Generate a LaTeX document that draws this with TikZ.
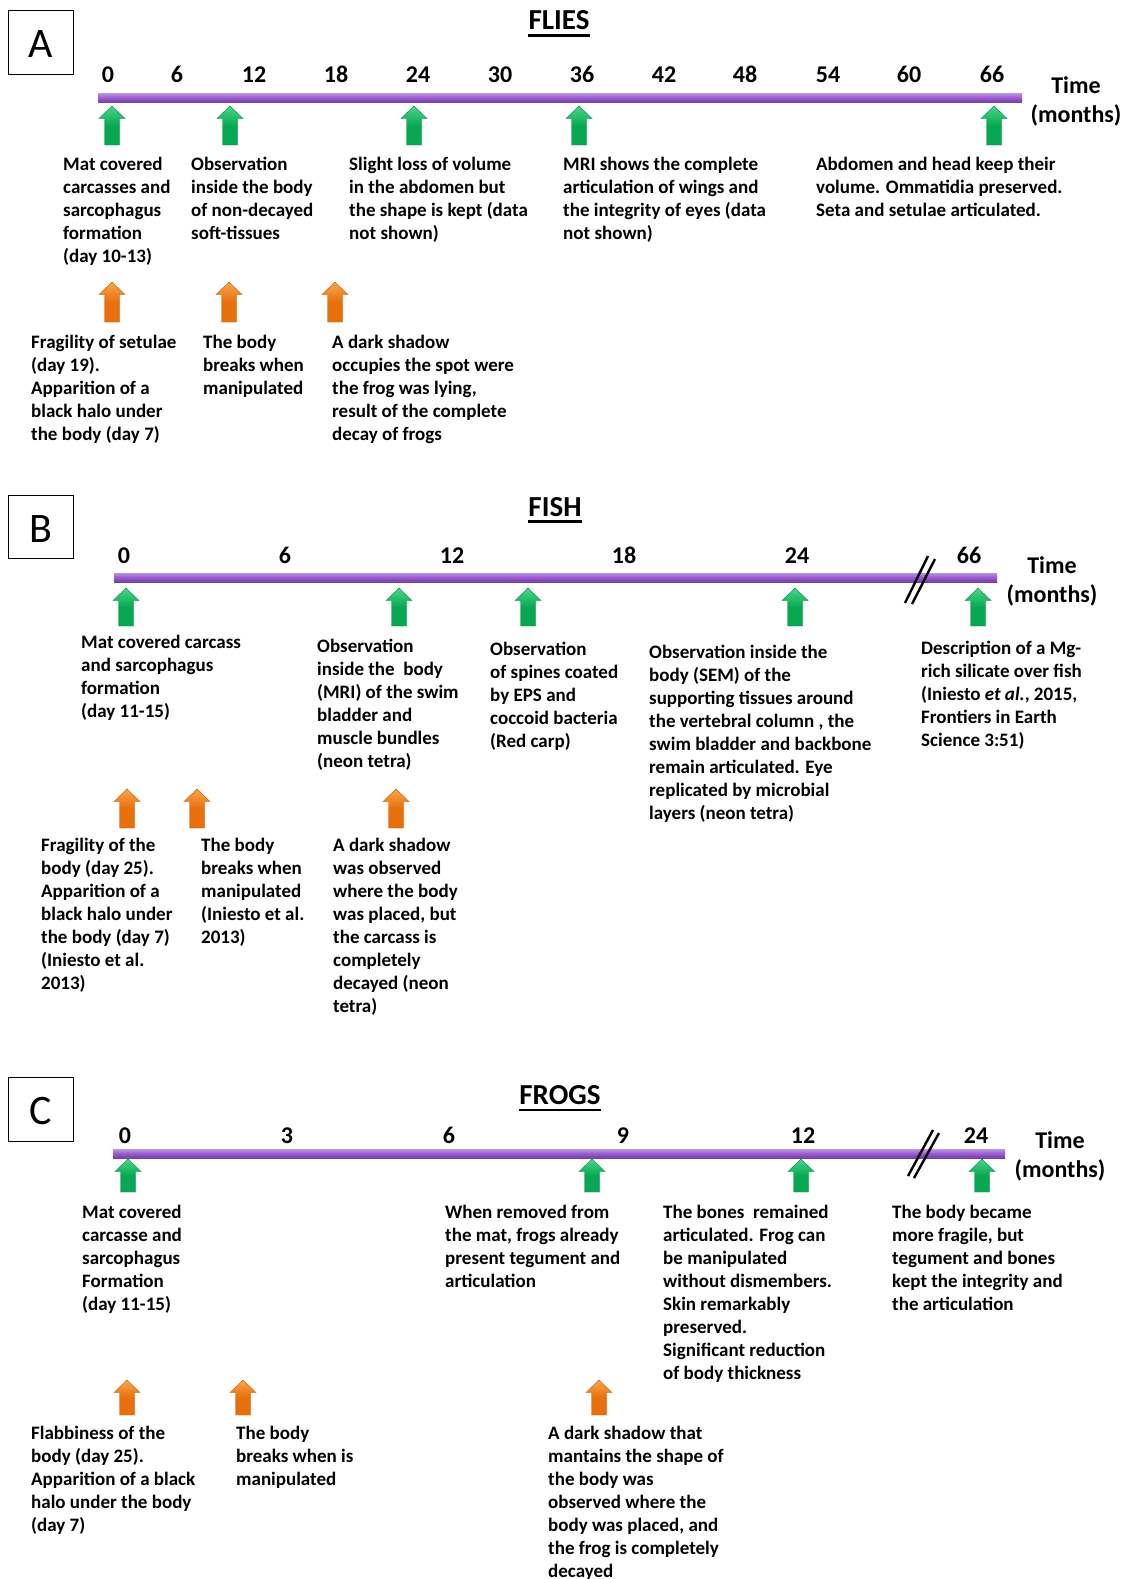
\documentclass[tikz,border=0pt]{standalone}
\usepackage{fontspec}
\setmainfont{Carlito}
\definecolor{glight}{HTML}{4AD688}
\definecolor{gmid}{HTML}{08A852}
\definecolor{gdark}{HTML}{078A44}
\definecolor{olight}{HTML}{F8A64E}
\definecolor{omid}{HTML}{E8700C}
\definecolor{odark}{HTML}{C45A08}
\definecolor{plight}{HTML}{B98EE6}
\definecolor{pmid}{HTML}{9A58CE}
\definecolor{pdark}{HTML}{7240A2}
\tikzset{
  pics/uparrow/.style={code={
    \path[pic actions] (0,0) -- (13,12.5) -- (7.5,12.5) -- (7.5,#1) -- (-7.5,#1) -- (-7.5,12.5) -- (-13,12.5) -- cycle;
  }},
  garrow/.style={top color=glight, bottom color=gmid, middle color=gmid, draw=gdark, line width=0.4pt},
  oarrow/.style={top color=olight, bottom color=omid, middle color=omid, draw=odark, line width=0.4pt},
  txt/.style={font=\fontsize{19}{23}\selectfont\bfseries, align=left, anchor=north west, inner sep=0pt, yshift=12.3pt, execute at begin node=\strut},
  ticklbl/.style={font=\fontsize{24}{28}\selectfont\bfseries, anchor=base, inner sep=0pt},
  timelbl/.style={font=\fontsize{24}{29.2}\selectfont\bfseries, align=center, anchor=north, inner sep=0pt, yshift=16pt, execute at begin node=\strut},
  titlelbl/.style={font=\fontsize{29}{34}\selectfont\bfseries, anchor=base, inner sep=0pt},
  letterbox/.style={draw=black, line width=0.8pt},
  letterlbl/.style={font=\fontsize{42}{48}\selectfont, anchor=base, inner sep=0pt},
  barshade/.style={top color=plight, bottom color=pdark, middle color=pmid},
  brk/.style={line width=2.4pt, black},
}
\newcommand{\titleline}[1]{\draw[line width=2.4pt] ([yshift=-5.5pt]#1.base west) -- ([yshift=-5.5pt]#1.base east);}
\begin{document}
\begin{tikzpicture}[x=1pt,y=-1pt]
\useasboundingbox[fill=white] (0,0) rectangle (1126,1579);

% ================= PANEL A =================
\draw[letterbox] (8,10) rectangle (73,74);
\node[letterlbl] (letA) at (40.5,57.5) {A};
\node[titlelbl] (titleA) at (559,30) {FLIES};
\titleline{titleA}
\foreach \v/\x in {0/108,6/177,12/254,18/336,24/418,30/500,36/582,42/664,48/745,54/828,60/909,66/992}
  \node[ticklbl] (tA\v) at (\x,82) {\v};
\fill[barshade] (98,93.5) rectangle (1022,102.5);
\node[timelbl] (timeA) at (1076,92.3) {Time\\(months)};

\pic[garrow] (gA1) at (112,106) {uparrow=39};
\pic[garrow] (gA2) at (230,106) {uparrow=39};
\pic[garrow] (gA3) at (414,106) {uparrow=39};
\pic[garrow] (gA4) at (579,106) {uparrow=39};
\pic[garrow] (gA5) at (994,106) {uparrow=39};

\node[txt] (xA1) at (63,169) {Mat covered\\carcasses and\\sarcophagus\\formation\\(day 10-13)};
\node[txt] (xA2) at (191,169) {Observation\\inside the body\\of non-decayed\\soft-tissues};
\node[txt] (xA3) at (349,169) {Slight loss of volume\\in the abdomen but\\the shape is kept (data\\not shown)};
\node[txt] (xA4) at (563,169) {MRI shows the complete\\articulation of wings and\\the integrity of eyes (data\\not shown)};
\node[txt] (xA5) at (816,169) {Abdomen and head keep their\\volume. Ommatidia preserved.\\Seta and setulae articulated.};

\pic[oarrow] (oA1) at (112,282) {uparrow=40};
\pic[oarrow] (oA2) at (229,282) {uparrow=40};
\pic[oarrow] (oA3) at (335,282) {uparrow=40};

\node[txt] (yA1) at (31,347.5) {Fragility of setulae\\(day 19).\\Apparition of a\\black halo under\\the body (day 7)};
\node[txt] (yA2) at (203,347.5) {The body\\breaks when\\manipulated};
\node[txt] (yA3) at (332,347.5) {A dark shadow\\occupies the spot were\\the frog was lying,\\result of the complete\\decay of frogs};

% ================= PANEL B =================
\draw[letterbox] (8,495) rectangle (73,558);
\node[letterlbl] (letB) at (41,542.5) {B};
\node[titlelbl] (titleB) at (555,516) {FISH};
\titleline{titleB}
\foreach \v/\x in {0/124,6/285,12/452,18/624,24/797,66/969}
  \node[ticklbl] (tB\v) at (\x,563.5) {\v};
\fill[barshade] (114,573) rectangle (997,582);
\draw[brk] (905,603) -- (928,556);
\draw[brk] (912,604) -- (935,559);
\node[timelbl] (timeB) at (1052,572.7) {Time\\(months)};

\pic[garrow] (gB1) at (126,588) {uparrow=38};
\pic[garrow] (gB2) at (399,588) {uparrow=38};
\pic[garrow] (gB3) at (528,588) {uparrow=38};
\pic[garrow] (gB4) at (795,588) {uparrow=38};
\pic[garrow] (gB5) at (978,588) {uparrow=38};

\node[txt] (xB1) at (81,647) {Mat covered carcass\\and sarcophagus\\formation\\(day 11-15)};
\node[txt] (xB2) at (317,651) {Observation\\inside the\ \ body\\(MRI) of the swim\\bladder and\\muscle bundles\\(neon tetra)};
\node[txt] (xB3) at (490,654) {Observation\\of spines coated\\by EPS and\\coccoid bacteria\\(Red carp)};
\node[txt] (xB4) at (649,657) {Observation inside the\\body (SEM) of the\\supporting tissues around\\the vertebral column , the\\swim bladder and backbone\\remain articulated. Eye\\replicated by microbial\\layers (neon tetra)};
\node[txt] (xB5) at (921,653) {Description of a Mg-\\rich silicate over fish\\(Iniesto \textit{et al.}, 2015,\\Frontiers in Earth\\Science 3:51)};

\pic[oarrow] (oB1) at (127,789) {uparrow=39};
\pic[oarrow] (oB2) at (197,789) {uparrow=39};
\pic[oarrow] (oB3) at (396,789) {uparrow=39};

\node[txt] (yB1) at (41,850) {Fragility of the\\body (day 25).\\Apparition of a\\black halo under\\the body (day 7)\\(Iniesto et al.\\2013)};
\node[txt] (yB2) at (201,850) {The body\\breaks when\\manipulated\\(Iniesto et al.\\2013)};
\node[txt] (yB3) at (333,850) {A dark shadow\\was observed\\where the body\\was placed, but\\the carcass is\\completely\\decayed (neon\\tetra)};

% ================= PANEL C =================
\draw[letterbox] (8,1077) rectangle (73,1141);
\node[letterlbl] (letC) at (40.5,1124) {C};
\node[titlelbl] (titleC) at (560,1104.5) {FROGS};
\titleline{titleC}
\foreach \v/\x in {0/125,3/287,6/449,9/623,12/803,24/976}
  \node[ticklbl] (tC\v) at (\x,1143) {\v};
\fill[barshade] (113,1149.5) rectangle (1005,1158);
\draw[brk] (908,1176) -- (933,1130);
\draw[brk] (914,1178) -- (939,1133);
\node[timelbl] (timeC) at (1060,1147) {Time\\(months)};

\pic[garrow] (gC1) at (128,1159) {uparrow=33};
\pic[garrow] (gC2) at (592,1159) {uparrow=33};
\pic[garrow] (gC3) at (801,1159) {uparrow=33};
\pic[garrow] (gC4) at (982,1159) {uparrow=33};

\node[txt] (xC1) at (82,1217) {Mat covered\\carcasse and\\sarcophagus\\Formation\\(day 11-15)};
\node[txt] (xC2) at (445,1217) {When removed from\\the mat, frogs already\\present tegument and\\articulation};
\node[txt] (xC3) at (663,1217) {The bones\ \ remained\\articulated. Frog can\\be manipulated\\without dismembers.\\Skin remarkably\\preserved.\\Significant reduction\\of body thickness};
\node[txt] (xC4) at (892,1217) {The body became\\more fragile, but\\tegument and bones\\kept the integrity and\\the articulation};

\pic[oarrow] (oC1) at (127,1380) {uparrow=35};
\pic[oarrow] (oC2) at (243,1380) {uparrow=35};
\pic[oarrow] (oC3) at (599,1380) {uparrow=35};

\node[txt] (yC1) at (31,1438) {Flabbiness of the\\body (day 25).\\Apparition of a black\\halo under the body\\(day 7)};
\node[txt] (yC2) at (236,1438) {The body\\breaks when is\\manipulated};
\node[txt] (yC3) at (548,1438) {A dark shadow that\\mantains the shape of\\the body was\\observed where the\\body was placed, and\\the frog is completely\\decayed};
\end{tikzpicture}
\end{document}
